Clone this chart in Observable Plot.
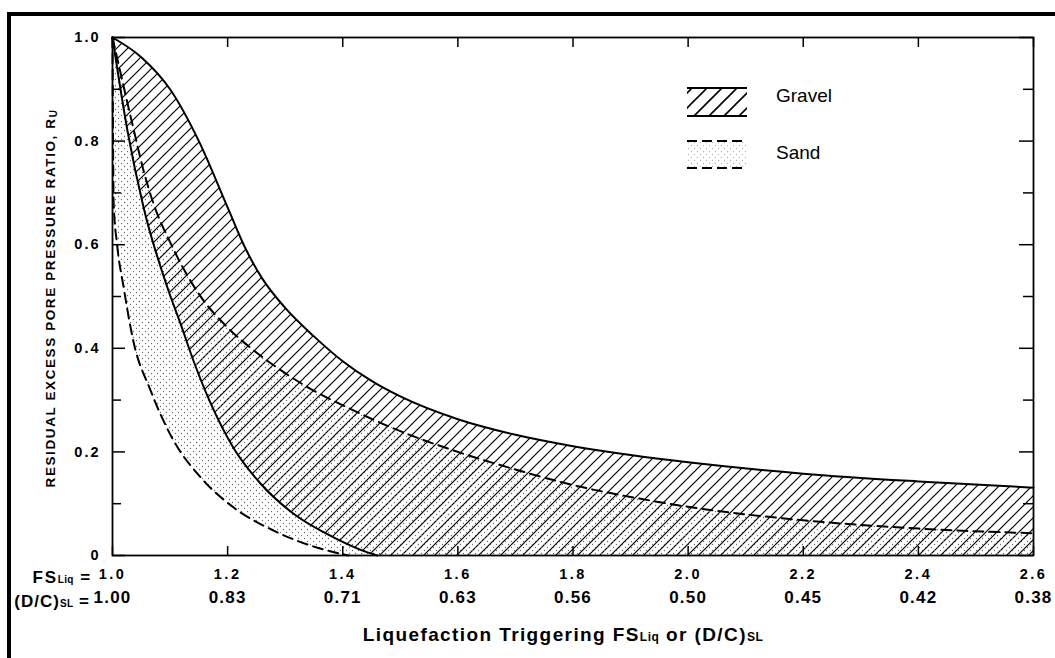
<!DOCTYPE html>
<html><head><meta charset="utf-8">
<script src="https://cdn.jsdelivr.net/npm/d3@7"></script>
<script src="https://cdn.jsdelivr.net/npm/@observablehq/plot@0.6"></script>
<style>
html,body{margin:0;padding:0;background:#fff;overflow:hidden;}
#wrap{position:relative;width:1055px;height:658px;overflow:hidden;}
#border{position:absolute;left:7px;top:12px;width:1100px;height:700px;border-top:4px solid #000;border-left:4px solid #000;pointer-events:none;}
#wrap svg{position:absolute;left:0;top:0;}
svg text{font-family:"Liberation Sans",Arial,sans-serif;}
</style></head><body><div id="wrap"><div id="border"></div></div>
<script>
// ---- data ----
const xTicks = [1.0, 1.2, 1.4, 1.6, 1.8, 2.0, 2.2, 2.4, 2.6];
const fsLabels = ["1.0", "1.2", "1.4", "1.6", "1.8", "2.0", "2.2", "2.4", "2.6"];
const dcLabels = ["1.00", "0.83", "0.71", "0.63", "0.56", "0.50", "0.45", "0.42", "0.38"];
const yMajor = [0, 0.2, 0.4, 0.6, 0.8, 1.0];
const yLabels = ["0", "0.2", "0.4", "0.6", "0.8", "1.0"];
const yMinor = [0.1, 0.3, 0.5, 0.7, 0.9];

// Gravel band: upper bound (solid) and lower bound (solid)
const gravelUpper = [[1.0,1.0],[1.05,0.962],[1.10,0.90],[1.15,0.80],[1.20,0.672],[1.23,0.595],[1.26,0.535],[1.30,0.478],[1.35,0.423],[1.40,0.375],[1.45,0.337],[1.50,0.307],[1.60,0.263],[1.70,0.233],[1.80,0.211],[1.90,0.194],[2.00,0.180],[2.20,0.158],[2.40,0.143],[2.60,0.131]];
const gravelLower = [[1.0,1.0],[1.026,0.82],[1.054,0.672],[1.097,0.512],[1.118,0.448],[1.141,0.375],[1.17,0.295],[1.21,0.208],[1.257,0.139],[1.314,0.081],[1.384,0.035],[1.443,0.006],[1.46,0]];
// Sand band: upper bound (dashed) and lower bound (dashed)
const sandUpper = [[1.0,1.0],[1.036,0.826],[1.054,0.743],[1.071,0.68],[1.10,0.605],[1.15,0.505],[1.20,0.44],[1.25,0.392],[1.30,0.352],[1.35,0.318],[1.40,0.29],[1.50,0.24],[1.60,0.20],[1.70,0.166],[1.80,0.136],[1.90,0.113],[2.00,0.094],[2.20,0.068],[2.40,0.052],[2.60,0.043]];
const sandLower = [[1.0,1.0],[1.002,0.68],[1.008,0.60],[1.019,0.52],[1.036,0.415],[1.066,0.319],[1.106,0.222],[1.153,0.151],[1.21,0.093],[1.28,0.048],[1.356,0.015],[1.41,0]];

// ---- chart ----
const W = 1055, H = 658, mL = 112, mR = 22, mT = 37, mB = 103;
const iw = W - mL - mR, ih = H - mT - mB;
const pts = a => a.map(([x, y]) => ({x, y}));
const curve = "monotone-x";
const bold = {fontWeight: "bold", fill: "black"};

const plot = Plot.plot({
  width: W, height: H,
  marginLeft: mL, marginRight: mR, marginTop: mT, marginBottom: mB,
  x: {domain: [1, 2.6], axis: null},
  y: {domain: [0, 1], axis: null},
  style: {background: "transparent", fontFamily: "Liberation Sans, Arial, sans-serif", overflow: "visible"},
  marks: [
    Plot.areaY(pts(gravelUpper), {x: "x", y1: 0, y2: "y", fill: "url(#hatch)", curve}),
    Plot.areaY(pts(gravelLower), {x: "x", y1: 0, y2: "y", fill: "white", curve}),
    Plot.areaY(pts(sandUpper), {x: "x", y1: 0, y2: "y", fill: "url(#dots)", curve}),
    Plot.areaY(pts(sandLower), {x: "x", y1: 0, y2: "y", fill: "white", curve}),
    Plot.line(pts(gravelUpper), {x: "x", y: "y", stroke: "black", strokeWidth: 2, curve}),
    Plot.line(pts(gravelLower), {x: "x", y: "y", stroke: "black", strokeWidth: 2, curve}),
    Plot.line(pts(sandUpper), {x: "x", y: "y", stroke: "black", strokeWidth: 2, strokeDasharray: "10,6", curve}),
    Plot.line(pts(sandLower), {x: "x", y: "y", stroke: "black", strokeWidth: 2, strokeDasharray: "10,6", curve}),
    Plot.frame({stroke: "black", strokeWidth: 1.8}),
    Plot.ruleX(xTicks, {x: d => d, insetTop: ih - 9, stroke: "black", strokeWidth: 1.5}),
    Plot.ruleX(xTicks, {x: d => d, insetBottom: ih - 10, stroke: "black", strokeWidth: 1.5}),
    Plot.ruleY(yMajor, {y: d => d, insetRight: iw - 13, stroke: "black", strokeWidth: 1.5}),
    Plot.ruleY(yMinor, {y: d => d, insetRight: iw - 9, stroke: "black", strokeWidth: 1.5}),
    Plot.ruleY(yMajor, {y: d => d, insetLeft: iw - 14, stroke: "black", strokeWidth: 1.5}),
    Plot.ruleY(yMinor, {y: d => d, insetLeft: iw - 10, stroke: "black", strokeWidth: 1.5}),
    Plot.text(yMajor, {y: d => d, frameAnchor: "left", dx: -12, textAnchor: "end", text: (d, i) => yLabels[i], fontSize: 14.5, ...bold}),
    Plot.text(xTicks, {x: d => d, frameAnchor: "bottom", dy: 23, text: (d, i) => fsLabels[i], fontSize: 14.5, ...bold}),
    Plot.text(xTicks, {x: d => d, frameAnchor: "bottom", dy: 47, text: (d, i) => dcLabels[i], fontSize: 17, ...bold})
  ]
});

document.getElementById("wrap").appendChild(plot);
const svg = d3.select(plot);
const textGroups = svg.selectAll('g[aria-label="text"]').nodes();
const spacing = ["2", "2.5", "1.2"];
textGroups.forEach((g, i) => d3.select(g).selectAll("text").attr("letter-spacing", spacing[i] || "0"));

// patterns
const defs = svg.insert("defs", ":first-child");
function hatch(id, s, w) {
  const p = defs.append("pattern").attr("id", id).attr("patternUnits", "userSpaceOnUse").attr("width", s).attr("height", s);
  p.append("path").attr("d", `M0,${s} L${s},0 M-2,2 L2,-2 M${s-2},${s+2} L${s+2},${s-2}`).attr("stroke", "black").attr("stroke-width", w);
}
hatch("hatch", 11, 1.2);
hatch("hatchL", 15, 1.6);
const dp = defs.append("pattern").attr("id", "dots").attr("patternUnits", "userSpaceOnUse").attr("width", 6).attr("height", 6);
dp.append("circle").attr("cx", 1.5).attr("cy", 1.5).attr("r", 0.65).attr("fill", "#666");
dp.append("circle").attr("cx", 4.5).attr("cy", 4.5).attr("r", 0.65).attr("fill", "#666");

const xs = plot.scale("x"), ys = plot.scale("y");
const x0 = xs.apply(1), yb = ys.apply(0);

// prefix labels of the two tick rows
const p1 = svg.append("text").attr("x", x0 - 20).attr("y", yb + 23).attr("dy", "0.32em").attr("text-anchor", "end")
  .attr("font-weight", "bold").attr("font-size", 17).attr("letter-spacing", "1.8");
p1.append("tspan").text("FS");
p1.append("tspan").attr("font-size", 10).attr("letter-spacing", "0.3").text("Liq");
p1.append("tspan").text(" =");
const p2 = svg.append("text").attr("x", x0 - 22).attr("y", yb + 47).attr("dy", "0.32em").attr("text-anchor", "end")
  .attr("font-weight", "bold").attr("font-size", 17).attr("letter-spacing", "1");
p2.append("tspan").text("(D/C)");
p2.append("tspan").attr("font-size", 10).attr("letter-spacing", "0.3").text("SL");
p2.append("tspan").text(" =");

// x axis title
const xt = svg.append("text").attr("x", 563).attr("y", 641).attr("text-anchor", "middle")
  .attr("font-weight", "bold").attr("font-size", 19).attr("letter-spacing", "1.4");
xt.append("tspan").text("Liquefaction Triggering FS");
xt.append("tspan").attr("font-size", 12).attr("letter-spacing", "0.5").text("Liq");
xt.append("tspan").text(" or (D/C)");
xt.append("tspan").attr("font-size", 12).attr("letter-spacing", "0.5").text("SL");

// y axis title
const yt = svg.append("text").attr("transform", "translate(55,298) rotate(-90)").attr("text-anchor", "middle")
  .attr("font-weight", "bold").attr("font-size", 13.5).attr("letter-spacing", "1.6");
yt.append("tspan").text("RESIDUAL EXCESS PORE PRESSURE RATIO, R");
yt.append("tspan").attr("font-size", 10).attr("dy", 2).text("U");

// legend
const lg = svg.append("g").attr("text-anchor", "start");
lg.append("rect").attr("x", 687).attr("y", 88).attr("width", 60).attr("height", 28).attr("fill", "url(#hatchL)");
lg.append("line").attr("x1", 687).attr("x2", 747).attr("y1", 88).attr("y2", 88).attr("stroke", "black").attr("stroke-width", 2);
lg.append("line").attr("x1", 687).attr("x2", 747).attr("y1", 116).attr("y2", 116).attr("stroke", "black").attr("stroke-width", 2);
lg.append("text").attr("x", 776).attr("y", 102).attr("text-anchor", "start").attr("font-size", 19).text("Gravel");
lg.append("rect").attr("x", 687).attr("y", 141).attr("width", 60).attr("height", 27).attr("fill", "url(#dots)").attr("opacity", 0.5);
lg.append("line").attr("x1", 687).attr("x2", 747).attr("y1", 141).attr("y2", 141).attr("stroke", "black").attr("stroke-width", 2).attr("stroke-dasharray", "10,5");
lg.append("line").attr("x1", 687).attr("x2", 747).attr("y1", 168).attr("y2", 168).attr("stroke", "black").attr("stroke-width", 2).attr("stroke-dasharray", "10,5");
lg.append("text").attr("x", 776).attr("y", 159).attr("text-anchor", "start").attr("font-size", 19).text("Sand");
</script>
</body></html>
